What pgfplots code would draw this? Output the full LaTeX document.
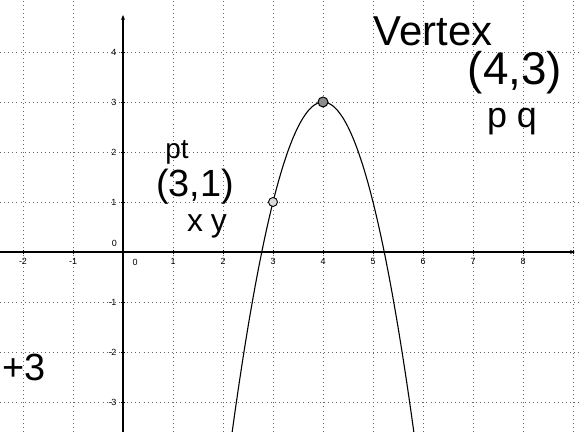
\documentclass[border=0pt]{standalone}
\usepackage{fontspec}
\setmainfont{Liberation Sans}
\usepackage{pgfplots}
\pgfplotsset{compat=1.18}
\usetikzlibrary{arrows.meta}

% points on the parabola through the vertex (4,3) and the point (3,1)
\begin{document}
\begin{tikzpicture}
\begin{axis}[
  scale only axis,
  width=579bp, height=432bp,
  xmin=-2.46, xmax=9.12,
  ymin=-3.6, ymax=5.04,
  axis lines=middle,
  axis line style={draw=none},
  xtick={-2,-1,1,2,3,4,5,6,7,8,9},
  xticklabels={-2,-1,1,2,3,4,5,6,7,8,},
  ytick={-3,-2,-1,1,2,3,4},
  yticklabels={-3,-2,-1,1,2,3,4},
  grid=major,
  grid style={dash pattern=on 0.9bp off 3.2bp, black!60, line width=0.7bp},
  major tick length=4bp,
  tick style={black, line width=0.6bp},
  tick label style={font=\fontsize{9}{10}\selectfont},
  xticklabel style={anchor=north, yshift=-1bp},
  yticklabel style={anchor=east, xshift=-1bp},
  clip=true,
]
  % axes with arrow heads
  \draw[line width=1.3bp, -{Stealth[length=5bp,width=4bp]}] (axis cs:-2.46,0) -- (axis cs:9.04,0);
  \draw[line width=1.3bp, -{Stealth[length=5bp,width=4bp]}] (axis cs:0,-3.6) -- (axis cs:0,4.74);
  \node[font=\fontsize{9}{10}\selectfont, anchor=south east] at (axis cs:-0.05,0.03) {0};
  \node[font=\fontsize{9}{10}\selectfont, anchor=north west] at (axis cs:0.12,-0.08) {0};

  % the parabola
  \addplot[black, line width=1.1bp, smooth] coordinates {
    (2.1,-4.22) (2.2,-3.48) (2.3,-2.78) (2.4,-2.12) (2.5,-1.5)
    (2.6,-0.92) (2.7,-0.38) (2.8,0.12) (2.9,0.58) (3.0,1)
    (3.1,1.38) (3.2,1.72) (3.3,2.02) (3.4,2.28) (3.5,2.5)
    (3.6,2.68) (3.7,2.82) (3.8,2.92) (3.9,2.98) (4.0,3)
    (4.1,2.98) (4.2,2.92) (4.3,2.82) (4.4,2.68) (4.5,2.5)
    (4.6,2.28) (4.7,2.02) (4.8,1.72) (4.9,1.38) (5.0,1)
    (5.1,0.58) (5.2,0.12) (5.3,-0.38) (5.4,-0.92) (5.5,-1.5)
    (5.6,-2.12) (5.7,-2.78) (5.8,-3.48) (5.9,-4.22)
  };

  % marked points
  \addplot[only marks, mark=*, mark size=5bp,
    mark options={fill=black!45, draw=black, line width=1bp}]
    coordinates {(4,3)};
  \addplot[only marks, mark=*, mark size=4.5bp,
    mark options={fill=black!15, draw=black, line width=0.9bp}]
    coordinates {(3,1)};

  % notes
  \node[font=\fontsize{42}{44}\selectfont] at (axis cs:6.2,4.42) {Vertex};
  \node[font=\fontsize{46}{48}\selectfont] at (axis cs:7.84,3.58) {(4,3)};
  \node[font=\fontsize{36}{38}\selectfont] at (axis cs:7.78,2.6) {p\hspace{10bp}q};
  \node[font=\fontsize{28}{30}\selectfont, inner sep=0pt] at (axis cs:1.08,2.0) {pt};
  \node[font=\fontsize{38}{40}\selectfont, inner sep=0pt] at (axis cs:1.44,1.3) {(3,1)};
  \node[font=\fontsize{32}{34}\selectfont, inner sep=0pt] at (axis cs:1.68,0.52) {x\hspace{8bp}y};
  \node[font=\fontsize{38}{40}\selectfont, inner sep=0pt] at (axis cs:-1.98,-2.3) {+3};
\end{axis}
\pgfresetboundingbox
\useasboundingbox (0,0) rectangle (579bp,432bp);
\end{tikzpicture}
\end{document}
